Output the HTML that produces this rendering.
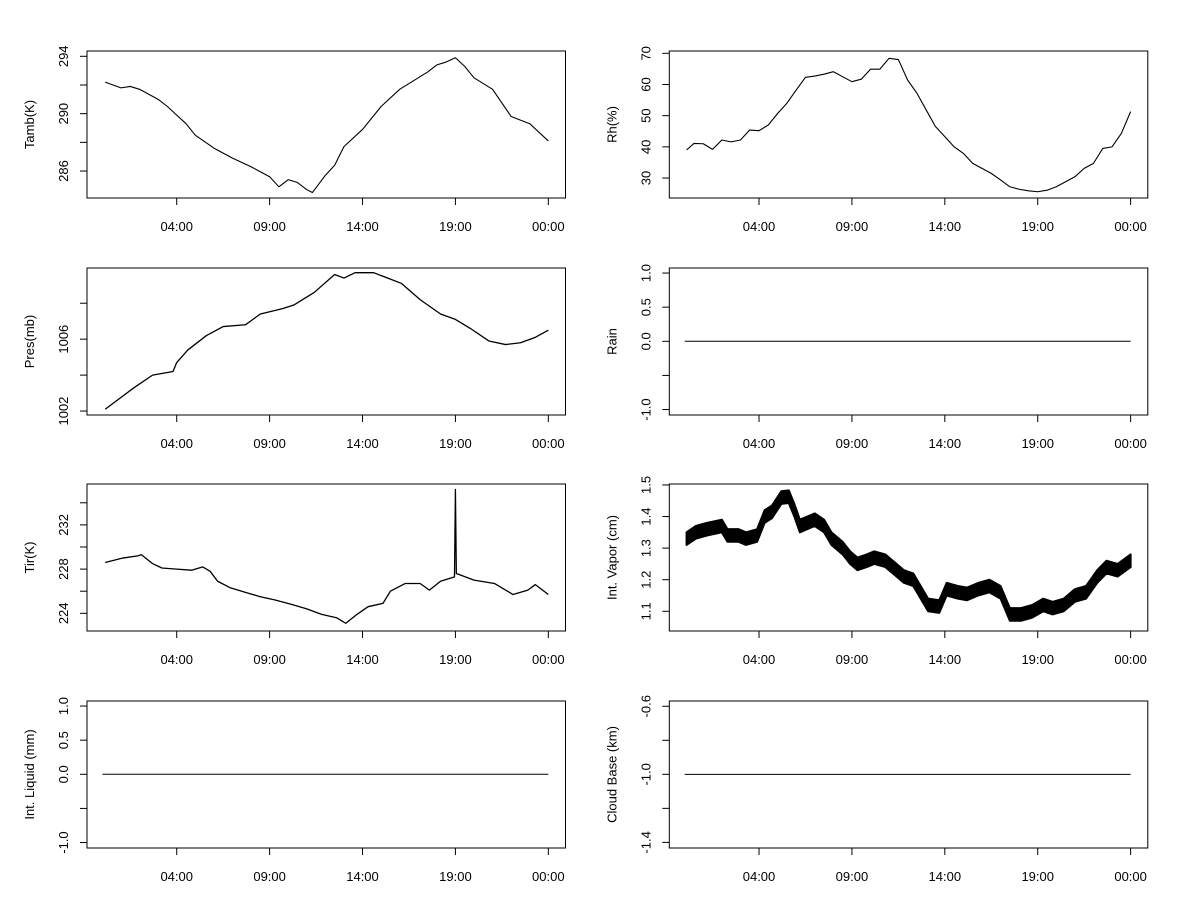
<!DOCTYPE html>
<html><head><meta charset="utf-8"><style>
html,body{margin:0;padding:0;background:#fff;}
svg{display:block;font-family:"Liberation Sans",Arial,sans-serif;}
</style></head><body>
<svg id="chart" width="1200" height="900" viewBox="0 0 1200 900" xmlns="http://www.w3.org/2000/svg">
<rect x="0" y="0" width="1200" height="900" fill="#fff"/>
</svg>
<script>
// ---- data (hours since 00:00, values) ----
const timeTickLabels = ["04:00","09:00","14:00","19:00","00:00"];
const timeTickHours = [4,9,14,19,24];

const tambHours = [0.15,1,1.5,2,3,3.5,4,4.5,5,6,7,8,9,9.5,10,10.5,11,11.3,12,12.5,13,14,15,16,17,17.5,18,18.5,19,19.5,20,21,22,23,24];
const tambValues = [292.2,291.8,291.9,291.7,291.0,290.5,289.9,289.3,288.5,287.6,286.9,286.3,285.6,284.9,285.4,285.2,284.7,284.5,285.7,286.4,287.7,288.9,290.5,291.7,292.5,292.9,293.4,293.6,293.9,293.3,292.5,291.7,289.8,289.3,288.1];

const rhHours = [0.1,0.5,1,1.5,2,2.5,3,3.5,4,4.5,5,5.5,6,6.5,7,7.5,8,8.5,9,9.5,10,10.5,11,11.5,12,12.5,13,13.5,14,14.5,15,15.5,16,16.5,17,17.5,18,18.5,19,19.5,20,20.5,21,21.5,22,22.5,23,23.5,24];
const rhValues = [39,41.1,41,39.2,42.2,41.6,42.2,45.4,45.2,47,50.7,54,58.2,62.3,62.7,63.3,64.1,62.5,60.9,61.7,64.9,64.9,68.4,68,61.4,57.2,51.8,46.5,43.3,40,37.9,34.7,33.1,31.5,29.4,27.2,26.4,25.9,25.6,26.1,27.2,28.8,30.4,33.1,34.7,39.5,40,44.3,51.3];

const presHours = [0.15,1.7,2.7,3.8,4,4.6,5.6,6.5,7.7,8.5,9.7,10.3,11.4,12.5,13,13.6,14.6,16.1,17.1,18.2,19,19.8,20.8,21.7,22.5,23.3,24];
const presValues = [1002.1,1003.3,1004.0,1004.2,1004.7,1005.4,1006.2,1006.7,1006.8,1007.4,1007.7,1007.9,1008.6,1009.6,1009.4,1009.7,1009.7,1009.1,1008.2,1007.4,1007.1,1006.6,1005.9,1005.7,1005.8,1006.1,1006.5];

const rainHours = [0,24];
const rainValues = [0,0];

const tirHours = [0.15,1.1,1.9,2.1,2.7,3.2,4,4.8,5.4,5.8,6.2,6.9,7.7,8.5,9.3,10.2,11,11.8,12.6,13.1,13.7,14.3,15.1,15.5,16.3,17.1,17.6,18.2,18.95,19.0,19.05,20,21.1,22.1,22.9,23.3,24];
const tirValues = [228.6,229,229.2,229.3,228.5,228.1,228,227.9,228.2,227.8,226.9,226.3,225.9,225.5,225.2,224.8,224.4,223.9,223.6,223.1,223.9,224.6,224.9,226,226.7,226.7,226.1,226.9,227.3,235.2,227.6,227,226.7,225.7,226.1,226.6,225.7];

const vaporHours = [0.1,0.6,1.2,2,2.3,2.9,3.3,3.9,4.3,4.7,5.2,5.6,5.9,6.2,7,7.5,7.9,8.5,8.9,9.3,9.8,10.2,10.8,11.4,11.8,12.3,12.7,13.1,13.7,14.1,14.7,15.2,15.8,16.4,17,17.5,18.1,18.7,19.3,19.8,20.4,21,21.6,22.2,22.7,23.3,24];
const vaporValues = [1.33,1.35,1.36,1.37,1.34,1.34,1.33,1.34,1.40,1.415,1.46,1.463,1.42,1.37,1.39,1.37,1.33,1.30,1.27,1.25,1.26,1.27,1.26,1.23,1.21,1.20,1.16,1.12,1.115,1.17,1.16,1.155,1.17,1.18,1.16,1.09,1.09,1.10,1.12,1.11,1.12,1.15,1.16,1.21,1.24,1.23,1.26];
const vaporSpread = 0.02;

const liquidHours = [0,24];
const liquidValues = [0,0];

const cloudHours = [0,24];
const cloudValues = [-1,-1];

// ---- drawing ----
const svg = document.getElementById('chart');
const NS = 'http://www.w3.org/2000/svg';
function mk(tag, attrs, parent){
  const e = document.createElementNS(NS, tag);
  for (const k in attrs) e.setAttribute(k, attrs[k]);
  (parent||svg).appendChild(e);
  return e;
}

const panels = [
  {name:'tamb', title:'Tamb(K)', col:0, top:51, bot:198, lo:284.12, hi:294.37, ticks:[286,288,290,292,294], labels:['286','','290','','294'], hours:tambHours, values:tambValues, w:1.1},
  {name:'rh', title:'Rh(%)', col:1, top:51, bot:198, lo:23.6, hi:70.74, ticks:[30,40,50,60,70], labels:['30','40','50','60','70'], hours:rhHours, values:rhValues, w:1.1},
  {name:'pres', title:'Pres(mb)', col:0, top:268, bot:415, lo:1001.78, hi:1009.96, ticks:[1002,1004,1006,1008], labels:['1002','','1006',''], hours:presHours, values:presValues, w:1.3},
  {name:'rain', title:'Rain', col:1, top:268, bot:415, lo:-1.08, hi:1.074, ticks:[-1,-0.5,0,0.5,1], labels:['-1.0','','0.0','0.5','1.0'], hours:rainHours, values:rainValues, w:1},
  {name:'tir', title:'Tir(K)', col:0, top:484, bot:631, lo:222.4, hi:235.7, ticks:[224,226,228,230,232,234], labels:['224','','228','','232',''], hours:tirHours, values:tirValues, w:1.3},
  {name:'vapor', title:'Int. Vapor (cm)', col:1, top:484, bot:631, lo:1.0376, hi:1.503, ticks:[1.1,1.2,1.3,1.4,1.5], labels:['1.1','1.2','1.3','1.4','1.5'], hours:vaporHours, values:vaporValues, w:1.2, spread:vaporSpread},
  {name:'liquid', title:'Int. Liquid (mm)', col:0, top:701, bot:848, lo:-1.08, hi:1.074, ticks:[-1,-0.5,0,0.5,1], labels:['-1.0','','0.0','0.5','1.0'], hours:liquidHours, values:liquidValues, w:1},
  {name:'cloud', title:'Cloud Base (km)', col:1, top:701, bot:848, lo:-1.433, hi:-0.569, ticks:[-1.4,-1.2,-1,-0.8,-0.6], labels:['-1.4','','-1.0','','-0.6'], hours:cloudHours, values:cloudValues, w:1}
];

panels.forEach(p => {
  const off = p.col === 0 ? 0 : 582.3;
  const left = 87 + off, right = 565.5 + off;
  const x0 = 102.4 + off, pxh = 18.58;
  const xs = h => x0 + h * pxh;
  const ys = v => p.bot - (v - p.lo) / (p.hi - p.lo) * (p.bot - p.top);
  const g = mk('g', {});
  
  

  const box = mk('rect', {x:left, y:p.top, width:right-left, height:p.bot-p.top, fill:'none', stroke:'#000', 'stroke-width':1}, g);
  
  

  // x axis
  const xa = mk('g', {}, g);
  
  
  timeTickHours.forEach((h, i) => {
    const x = xs(h);
    mk('line', {x1:x, x2:x, y1:p.bot, y2:p.bot+7, stroke:'#000', 'stroke-width':1}, xa);
    const t = mk('text', {x:x, y:p.bot+33, 'font-size':13, 'text-anchor':'middle', fill:'#000'}, xa);
    t.textContent = timeTickLabels[i];
    
    
  });

  // y axis
  const ya = mk('g', {}, g);
  
  
  p.ticks.forEach((v, i) => {
    const y = ys(v);
    mk('line', {x1:left-7, x2:left, y1:y, y2:y, stroke:'#000', 'stroke-width':1}, ya);
    if (p.labels[i]) {
      const tx = left - 19;
      const t = mk('text', {x:tx, y:y, 'font-size':13, 'text-anchor':'middle', fill:'#000', transform:'rotate(-90 '+tx+' '+y+')'}, ya);
      t.textContent = p.labels[i];
      
      
    }
  });
  const cy = (p.top + p.bot) / 2, tx = left - 53;
  const title = mk('text', {x:tx, y:cy, 'font-size':13, 'text-anchor':'middle', fill:'#000', transform:'rotate(-90 '+tx+' '+cy+')'}, ya);
  title.textContent = p.title;
  
  

  // series
  if (p.spread) {
    let up = [], dn = [];
    p.hours.forEach((h, i) => { up.push(xs(h)+','+ys(p.values[i]+p.spread)); dn.unshift(xs(h)+','+ys(p.values[i]-p.spread)); });
    const band = mk('polygon', {points: up.concat(dn).join(' '), fill:'#000', stroke:'#000', 'stroke-width':2, 'stroke-linejoin':'round'}, g);
    
    
  }
  const pts = p.hours.map((h, i) => xs(h) + ',' + ys(p.values[i])).join(' ');
  const line = mk('polyline', {points: pts, fill:'none', stroke:'#000', 'stroke-width':p.w, 'stroke-linejoin':'round'}, g);
  
  
});
</script>
</body></html>
